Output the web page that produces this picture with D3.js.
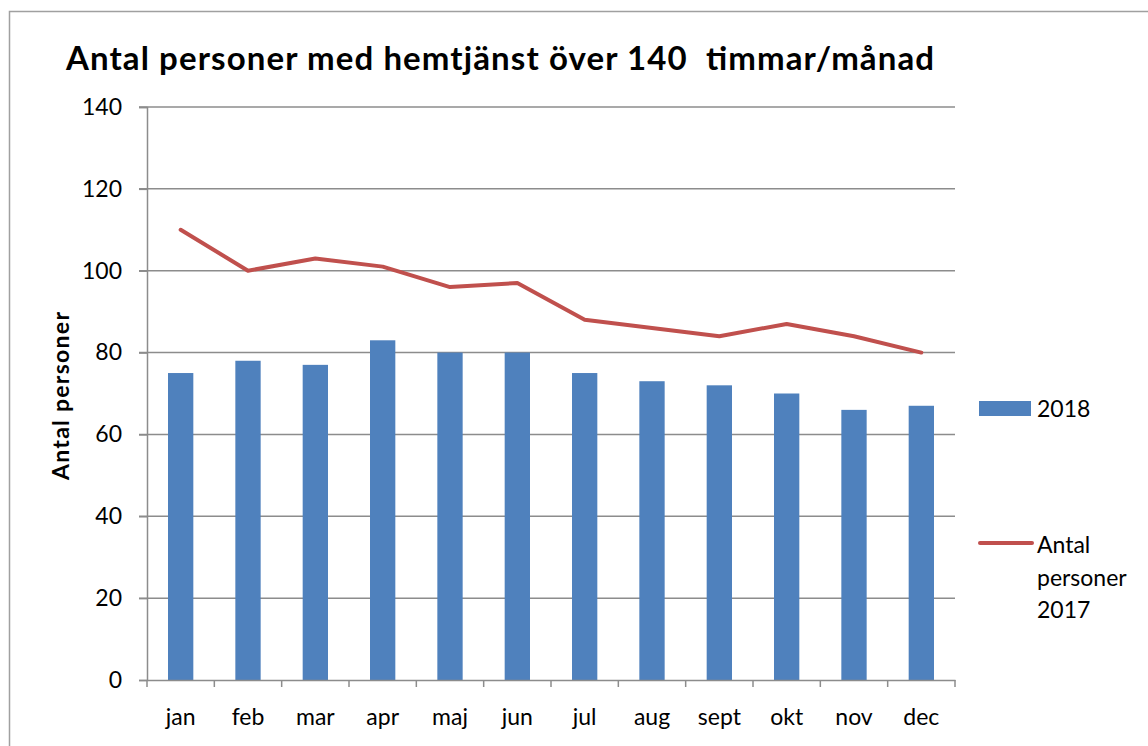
<!DOCTYPE html>
<html>
<head>
<meta charset="utf-8">
<script src="https://cdn.jsdelivr.net/npm/d3@7"></script>
<style>
  body { margin: 0; background: #fff; }
  text { font-family: Lato, 'Open Sans', sans-serif; fill: #000; }
</style>
</head>
<body>
<svg class="chartContainer" width="1148" height="746"></svg>
<script>
const months = ['jan', 'feb', 'mar', 'apr', 'maj', 'jun', 'jul', 'aug', 'sept', 'okt', 'nov', 'dec']
const values2018 = [75, 78, 77, 83, 80, 80, 75, 73, 72, 70, 66, 67]
const values2017 = [110, 100, 103, 101, 96, 97, 88, 86, 84, 87, 84, 80]
const yTicks = [0, 20, 40, 60, 80, 100, 120, 140]
const title = 'Antal personer med hemtjänst över 140  timmar/månad'

const margin = { top: 107, right: 193, bottom: 66, left: 147 }
const width = 1148
const height = 746
const innerWidth = width - margin.left - margin.right
const innerHeight = height - margin.top - margin.bottom
const gridColor = '#8c8c8c'

const svg = d3.select('svg.chartContainer')

// outer frame (runs off the right and bottom edges)
svg.append('path')
  .attr('d', `M9.5,${height}V11.5H${width}`)
  .attr('fill', 'none')
  .attr('stroke', '#a0a0a0')
  .attr('stroke-width', 1.5)

const g = svg.append('g')
  .attr('transform', `translate(${margin.left},${margin.top})`)

const x = d3.scaleBand()
  .domain(months)
  .range([0, innerWidth])
  .paddingInner(0.624)
  .paddingOuter(0.312)

const xCat = d3.scaleBand().domain(months).range([0, innerWidth])

const y = d3.scaleLinear()
  .domain([0, 140])
  .range([innerHeight, 0])

// grid lines
g.append('g')
  .selectAll('line')
  .data(yTicks.filter(d => d > 0))
  .join('line')
  .attr('x1', -8).attr('x2', innerWidth)
  .attr('y1', d => y(d)).attr('y2', d => y(d))
  .attr('stroke', gridColor)
  .attr('stroke-width', 1.5)

// bars
g.append('g')
  .selectAll('rect')
  .data(months)
  .join('rect')
  .attr('x', (d) => x(d))
  .attr('width', x.bandwidth())
  .attr('y', (d, i) => y(values2018[i]))
  .attr('height', (d, i) => innerHeight - y(values2018[i]))
  .attr('fill', '#4f81bd')

// line
const line = d3.line()
  .x((d, i) => xCat(months[i]) + xCat.bandwidth() / 2)
  .y((d) => y(d))

g.append('path')
  .datum(values2017)
  .attr('d', line)
  .attr('fill', 'none')
  .attr('stroke', '#c0504d')
  .attr('stroke-width', 4)
  .attr('stroke-linejoin', 'round')
  .attr('stroke-linecap', 'round')

// y axis
const yAxis = d3.axisLeft(y).tickValues(yTicks).tickSize(8).tickPadding(17)
const yG = g.append('g').call(yAxis)
yG.select('.domain').attr('stroke', gridColor).attr('stroke-width', 1.5)
yG.selectAll('.tick line').attr('stroke', gridColor).attr('stroke-width', 1.5)
yG.selectAll('.tick text').attr('font-size', 23).attr('font-family', 'Lato').attr('fill', '#000')

// x axis
const xAxis = d3.axisBottom(xCat).tickSize(0).tickPadding(29)
const xG = g.append('g').attr('transform', `translate(0,${innerHeight})`).call(xAxis)
xG.select('.domain').attr('stroke', gridColor).attr('stroke-width', 1.5)
xG.selectAll('.tick text').attr('font-size', 23).attr('font-family', 'Lato').attr('fill', '#000')
xG.selectAll('line.sep')
  .data(d3.range(months.length + 1))
  .join('line')
  .attr('class', 'sep')
  .attr('x1', (d) => d * xCat.step()).attr('x2', (d) => d * xCat.step())
  .attr('y1', 0).attr('y2', 7)
  .attr('stroke', gridColor)
  .attr('stroke-width', 1.5)

// title
svg.append('text')
  .attr('x', 66).attr('y', 70)
  .attr('font-size', 33)
  .attr('font-weight', 'bold')
  .attr('textLength', 868)
  .attr('lengthAdjust', 'spacing')
  .style('white-space', 'pre')
  .text(title)

// y axis title
svg.append('text')
  .attr('transform', `translate(69, 396) rotate(-90)`)
  .attr('text-anchor', 'middle')
  .attr('font-size', 23)
  .attr('font-weight', 'bold')
  .attr('textLength', 168)
  .attr('lengthAdjust', 'spacing')
  .text('Antal personer')

// legend
const legend = svg.append('g').attr('transform', 'translate(979, 0)')
legend.append('rect')
  .attr('x', 0).attr('y', 401)
  .attr('width', 52).attr('height', 15)
  .attr('fill', '#4f81bd')
legend.append('text')
  .attr('x', 58).attr('y', 417)
  .attr('font-size', 23)
  .text('2018')
legend.append('line')
  .attr('x1', 1).attr('x2', 53)
  .attr('y1', 543).attr('y2', 543)
  .attr('stroke', '#c0504d')
  .attr('stroke-width', 4)
  .attr('stroke-linecap', 'round')
legend.append('text')
  .attr('font-size', 23)
  .selectAll('tspan')
  .data(['Antal', 'personer', '2017'])
  .join('tspan')
  .attr('x', 58)
  .attr('y', (d, i) => 553 + i * 32.5)
  .text(d => d)
</script>
</body>
</html>
